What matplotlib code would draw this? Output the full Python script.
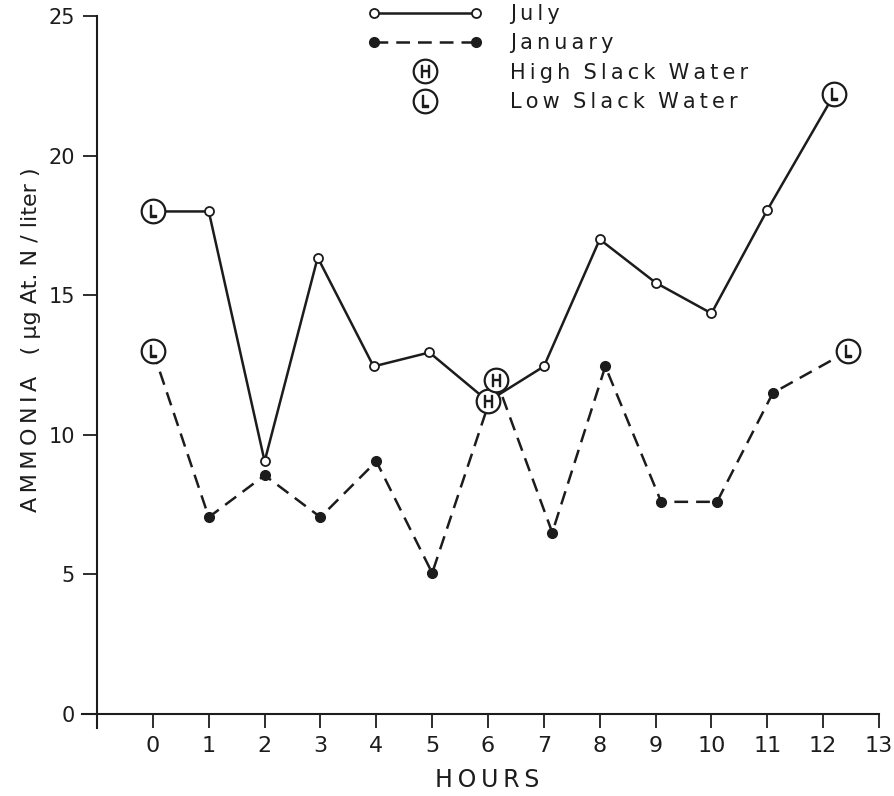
import matplotlib
matplotlib.use("Agg")
import matplotlib.pyplot as plt
from matplotlib.lines import Line2D
from matplotlib.legend_handler import HandlerLine2D

# data
july_hours = [0, 1, 2, 2.95, 3.95, 4.95, 6.0, 7.0, 8.0, 9.0, 10.0, 11.0, 12.2]
july_nh3 = [18.0, 18.0, 9.05, 16.35, 12.45, 12.95, 11.2, 12.45, 17.0, 15.45, 14.35, 18.05, 22.2]
july_slack = ['L', '', '', '', '', '', 'H', '', '', '', '', '', 'L']

jan_hours = [0, 1, 2, 3, 4, 5, 6.15, 7.15, 8.1, 9.1, 10.1, 11.1, 12.45]
jan_nh3 = [13.0, 7.05, 8.55, 7.05, 9.05, 5.05, 11.95, 6.5, 12.45, 7.6, 7.6, 11.5, 13.0]
jan_slack = ['L', '', '', '', '', '', 'H', '', '', '', '', '', 'L']

xticks = list(range(-1, 14))
xticklabels = [''] + [str(i) for i in range(0, 14)]
yticks = [0, 5, 10, 15, 20, 25]

legend_labels = ['July', 'January', 'High Slack Water', 'Low Slack Water']

ink = '#1c1c1c'
lw = 1.8
ts = '\u2009'  # thin space for the letter spacing of the lettering


def spaced(s):
    # spread letters a little, keep wider gaps between words
    return '  '.join(ts.join(w) for w in s.split(' '))


fig = plt.figure(figsize=(8.95, 7.96), dpi=100)
ax = fig.add_axes([82/895, 68/796, 797/895, 712/796])
ax.set_xlim(-1.27, 13)
ax.set_ylim(-0.5, 25)

# lines
ax.plot(july_hours, july_nh3, color=ink, lw=lw, zorder=2)
ax.plot(jan_hours, jan_nh3, color=ink, lw=lw, dashes=(5.5, 3.2), zorder=2)

# ordinary points
jx = [h for h, s in zip(july_hours, july_slack) if not s]
jy = [v for v, s in zip(july_nh3, july_slack) if not s]
ax.plot(jx, jy, ls='none', marker='o', ms=6.5, mfc='white', mec=ink, mew=1.3, zorder=3)
nx = [h for h, s in zip(jan_hours, jan_slack) if not s]
ny = [v for v, s in zip(jan_nh3, jan_slack) if not s]
ax.plot(nx, ny, ls='none', marker='o', ms=7, mfc=ink, mec=ink, zorder=3)

# slack water points (circled letters)
for hrs, vals, slack in [(july_hours, july_nh3, july_slack), (jan_hours, jan_nh3, jan_slack)]:
    for h, v, s in zip(hrs, vals, slack):
        if s:
            ax.plot(h, v, marker='o', ms=17, mfc='white', mec=ink, mew=1.6, zorder=4)
            ax.plot(h, v, marker='$\\mathrm{%s}$' % s, ms=8, color=ink, zorder=5)

# axes styling
for side in ['top', 'right']:
    ax.spines[side].set_visible(False)
ax.spines['left'].set_position(('data', -1))
ax.spines['left'].set_bounds(-0.5, 25)
ax.spines['bottom'].set_position(('data', 0))
ax.spines['bottom'].set_bounds(-1.27, 13)
for side in ['left', 'bottom']:
    ax.spines[side].set_linewidth(1.5)
    ax.spines[side].set_color(ink)

ax.set_xticks(xticks)
ax.set_xticklabels(xticklabels)
ax.set_yticks(yticks)
ax.tick_params(axis='both', direction='out', length=10, width=1.3, color=ink,
               labelsize=15, labelcolor=ink, pad=6)
ax.tick_params(axis='x', labelsize=16)

ax.set_xlabel(spaced('HOURS'), fontsize=17, color=ink)
ax.xaxis.set_label_coords(0.509, -0.056)
ax.set_ylabel(spaced('AMMONIA') + '   ( \u03bcg At. N / liter )', fontsize=16, color=ink)
ax.yaxis.set_label_coords(-0.052, 0.545)

# legend
h_july = Line2D([], [], color=ink, lw=lw, marker='o', ms=6.5, mfc='white', mec=ink, mew=1.3)
h_jan = Line2D([], [], color=ink, lw=lw, dashes=(5.5, 3.2), marker='o', ms=7, mfc=ink, mec=ink)
h_circ = Line2D([], [], ls='none', marker='o', ms=17, mfc='white', mec=ink, mew=1.6)
h_circ2 = Line2D([], [], ls='none', marker='o', ms=17, mfc='white', mec=ink, mew=1.6)
h_H = Line2D([], [], ls='none', marker='$\\mathrm{H}$', ms=8, color=ink)
h_L = Line2D([], [], ls='none', marker='$\\mathrm{L}$', ms=8, color=ink)
one = HandlerLine2D(numpoints=1)
leg = ax.legend([h_july, h_jan, (h_circ, h_H), (h_circ2, h_L)],
                [spaced(s) for s in legend_labels],
                handler_map={h_circ: one, h_circ2: one, h_H: one, h_L: one},
                loc='upper left', bbox_to_anchor=(368/895, 1 - 4/796),
                bbox_transform=fig.transFigure, frameon=False, numpoints=2,
                handlelength=5.5, handletextpad=1.3, labelspacing=0.45,
                borderpad=0, borderaxespad=0, prop={'size': 15})
for t in leg.get_texts():
    t.set_color(ink)

fig.savefig('out.png', dpi=100)
